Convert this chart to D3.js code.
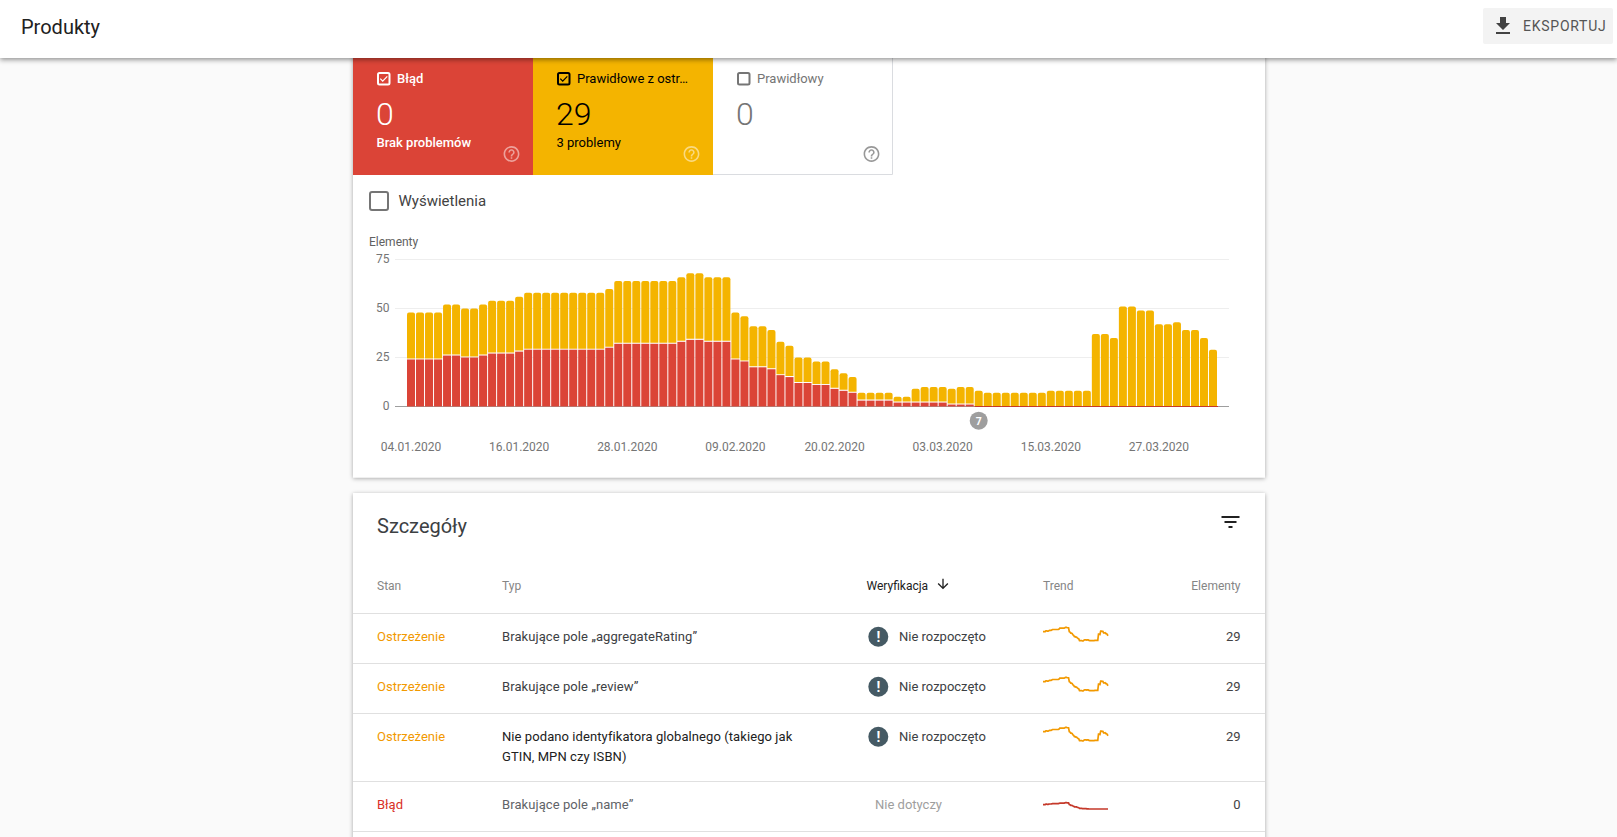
<![CDATA[<!DOCTYPE html>
<html><head><meta charset="utf-8">
<script src="https://cdn.jsdelivr.net/npm/d3@7/dist/d3.min.js"></script>
<style>
html,body{margin:0;padding:0;background:#fafafa;overflow:hidden}
svg{display:block}
text{font-family:Roboto,sans-serif}
</style></head><body><svg id="c" width="1617" height="837"></svg>
<script>
const totalCounts=[48,48,48,48,52,52,50,50,52,54,54,54,56,58,58,58,58,58,58,58,58,58,60,64,64,64,64,64,64,64,66,68,68,66,66,66,48,46,41,41,39,33,31,25,25,23,23,19,17,15,7,7,7,7,5,5,9,10,10,10,9,10,10,8,7,7,7,7,7,7,7,8,8,8,8,8,37,37,35,51,51,49,49,42,42,43,39,39,35,29];
const errorCounts=[24,24,24,24,26,26,25,25,26,27,27,27,28,29,29,29,29,29,29,29,29,29,30,32,32,32,32,32,32,32,33,34,34,33,33,33,24,23,20,20,19,16,15,12,12,11,11,9,8,7,3,3,3,3,2,2,2,2,2,2,1,1,1,0,0,0,0,0,0,0,0,0,0,0,0,0,0,0,0,0,0,0,0,0,0,0,0,0,0,0];
const startDate=new Date(2020,0,4);
const dayIndex=totalCounts.map((_,i)=>i);
const tickIndex=[0,12,24,36,47,59,71,83];
const yTicks=[0,25,50,75];
const tiles=[
 {label:"Błąd",count:"0",sub:"Brak problemów",fill:"#db4437",fg:"#fff",checked:true,bold:true},
 {label:"Prawidłowe z ostr…",count:"29",sub:"3 problemy",fill:"#f4b400",fg:"#000",checked:true,bold:false},
 {label:"Prawidłowy",count:"0",sub:"",fill:"#fff",fg:"#757575",checked:false,bold:false}];
const tableHeaders=["Stan","Typ","Weryfikacja","Trend","Elementy"];
const rowStates=["Ostrzeżenie","Ostrzeżenie","Ostrzeżenie","Błąd"];
const rowTypes=[["Brakujące pole „aggregateRating”"],["Brakujące pole „review”"],["Nie podano identyfikatora globalnego (takiego jak","GTIN, MPN czy ISBN)"],["Brakujące pole „name”"]];
const rowVerify=["Nie rozpoczęto","Nie rozpoczęto","Nie rozpoczęto","Nie dotyczy"];
const rowCounts=[29,29,29,0];
const rowTops=[613.5,663.5,713.5,781.5,831.5];

const svg=d3.select("#c");
const defs=svg.append("defs");
const f=defs.append("filter").attr("id","sh").attr("x","-5%").attr("y","-10%").attr("width","110%").attr("height","125%");
f.append("feDropShadow").attr("dx",0).attr("dy",1).attr("stdDeviation",2).attr("flood-color","#000").attr("flood-opacity",.35);
const f2=defs.append("filter").attr("id","hs").attr("x","-2%").attr("y","-20%").attr("width","104%").attr("height","160%");
f2.append("feDropShadow").attr("dx",0).attr("dy",2).attr("stdDeviation",2.5).attr("flood-color","#000").attr("flood-opacity",.4);

const T=(g,x,y,s,size,fill,w,anchor)=>g.append("text").attr("x",x).attr("y",y).text(s).attr("font-size",size).attr("fill",fill).attr("font-weight",w||400).attr("text-anchor",anchor||"start");
const ICON={help:"M11 18h2v-2h-2v2zm1-16C6.48 2 2 6.48 2 12s4.48 10 10 10 10-4.48 10-10S17.52 2 12 2zm0 18c-4.41 0-8-3.59-8-8s3.59-8 8-8 8 3.59 8 8-3.59 8-8 8zm0-14c-2.21 0-4 1.79-4 4h2c0-1.1.9-2 2-2s2 .9 2 2c0 2-3 1.75-3 5h2c0-2.25 3-2.5 3-5 0-2.21-1.79-4-4-4z",
 dl:"M19 9h-4V3H9v6H5l7 7 7-7zM5 18v2h14v-2H5z",
 filter:"M10 18h4v-2h-4v2zM3 6v2h18V6H3zm3 7h12v-2H6v2z",
 down:"M20 12l-1.41-1.41L13 16.17V4h-2v12.17l-5.58-5.59L4 12l8 8 8-8z"};
const Icon=(g,d,cx,cy,size,fill,op)=>g.append("path").attr("d",d).attr("fill",fill).attr("opacity",op==null?1:op).attr("transform",`translate(${cx-size/2},${cy-size/2}) scale(${size/24})`);

// cards
svg.append("rect").attr("x",353).attr("y",40).attr("width",912).attr("height",437.5).attr("fill","#fff").attr("filter","url(#sh)");
svg.append("rect").attr("x",353).attr("y",493).attr("width",912).attr("height",400).attr("fill","#fff").attr("filter","url(#sh)");

// tiles
const tileX=[353,533,713], tileW=[180,180,180];
tiles.forEach((t,i)=>{
 const g=svg.append("g"), x0=tileX[i], tx=x0+24;
 g.append("rect").attr("x",x0).attr("y",50).attr("width",tileW[i]).attr("height",125).attr("fill",t.fill);
 if(i==2){g.append("path").attr("d",`M${x0} 174.5H${x0+tileW[i]-.5}V50`).attr("fill","none").attr("stroke","#dadce0");}
 const boxStroke=i==0?"#fff":(i==1?"#000":"#757575");
 g.append("rect").attr("x",tx+1).attr("y",73).attr("width",11.5).attr("height",11.5).attr("rx",1.5).attr("fill","none").attr("stroke",boxStroke).attr("stroke-width",2);
 if(t.checked)g.append("path").attr("d",`M${tx+3.3} 78.7l2.4 2.5 4.6-4.8`).attr("fill","none").attr("stroke",boxStroke).attr("stroke-width",1.2);
 T(g,tx+20,83,t.label,13,i==2?"#757575":t.fg,t.bold?500:400);
 T(g,tx-1,125,t.count,32,t.fg,300);
 if(t.sub)T(g,tx-.5,147,t.sub,13,t.fg,t.bold?500:400);
 Icon(g,ICON.help,x0+158.5,154,19,i==2?"#757575":"#fff",i==2?.75:.5);
});

// impressions checkbox
svg.append("rect").attr("x",370).attr("y",192).attr("width",18).attr("height",18).attr("rx",2).attr("fill","none").attr("stroke","#757575").attr("stroke-width",2);
T(svg,398.5,206,"Wyświetlenia",15,"#424242");

// chart
const x=d3.scaleBand().domain(dayIndex).range([407,407+9*dayIndex.length]).paddingInner(.11).paddingOuter(0);
const y=d3.scaleLinear().domain([0,75]).range([406.5,259.5]);
T(svg,369,246,"Elementy",12,"#616161");
const gy=svg.append("g");
gy.selectAll("line").data(yTicks).join("line").attr("x1",395).attr("x2",1229).attr("y1",d=>Math.round(y(d))-.5).attr("y2",d=>Math.round(y(d))-.5).attr("stroke",d=>d?"#eeeeee":"#9e9e9e");
gy.selectAll("text").data(yTicks).join("text").attr("x",389.5).attr("y",d=>y(d)+3.7).attr("text-anchor","end").attr("font-size",12).attr("fill","#757575").text(d=>d);

const barPath=(x0,w,top,bot)=>{const r=Math.min(2,Math.max(0,bot-top));return `M${x0} ${bot}V${top+r}Q${x0} ${top} ${x0+r} ${top}H${x0+w-r}Q${x0+w} ${top} ${x0+w} ${top+r}V${bot}Z`;};
svg.append("g").selectAll("path").data(dayIndex).join("path").attr("fill","#f4b400")
 .attr("d",i=>barPath(x(i),x.bandwidth(),y(totalCounts[i]),errorCounts[i]?y(errorCounts[i])-1:y(0)));
svg.append("g").selectAll("rect").data(dayIndex).join("rect").attr("fill",i=>errorCounts[i]?"#db4437":"#c5392a")
 .attr("x",x).attr("width",i=>errorCounts[i]?x.bandwidth():x.step()).attr("y",i=>errorCounts[i]?y(errorCounts[i]):y(0)-.5).attr("height",i=>errorCounts[i]?y(0)-y(errorCounts[i]):1);

const fmt=d3.timeFormat("%d.%m.%Y");
svg.append("g").selectAll("text").data(tickIndex).join("text").attr("x",i=>x(i)+x.bandwidth()/2).attr("y",451).attr("text-anchor","middle").attr("font-size",12).attr("fill","#757575")
 .text(i=>fmt(d3.timeDay.offset(startDate,i)));

// annotation
const ann=svg.append("g");
ann.append("circle").attr("cx",x(63)+x.bandwidth()/2).attr("cy",420.7).attr("r",9).attr("fill","#9e9e9e");
T(ann,x(63)+x.bandwidth()/2,424.5,"7",10.5,"#fff",700,"middle");

// details
T(svg,377,532.5,"Szczegóły",20,"#3c4043");
Icon(svg,ICON.filter,1230.5,522,24,"#212121");
const hx=[377,502,866.5,1043,1240.5];
tableHeaders.forEach((h,i)=>T(svg,hx[i],589.5,h,12,i==2?"#212121":"#858585",400,i==4?"end":"start"));
Icon(svg,ICON.down,943,584,16,"#212121");

rowTops.forEach(t=>svg.append("line").attr("x1",353).attr("x2",1265).attr("y1",t).attr("y2",t).attr("stroke","#e0e0e0"));

const sparkX=d3.scaleLinear().domain([0,dayIndex.length-1]).range([1043,1108]);
const sparkYTotal=d3.scaleLinear().domain([0,68]).range([14.8,0]);
const sparkYErr=d3.scaleLinear().domain([0,34]).range([6.3,0]);
const lineT=d3.line().x(i=>sparkX(i)).y(i=>sparkYTotal(totalCounts[i]));
const lineE=d3.line().x(i=>sparkX(i)).y(i=>sparkYErr(errorCounts[i]));

const typeFill=["#3c4043","#3c4043","#212121","#5f6368"];
rowStates.forEach((s,i)=>{
 const err=s==="Błąd";
 const cy=rowTops[i]+23.2;
 const base=cy+4.7;
 T(svg,377,base,s,13,err?"#d93025":"#f29900");
 rowTypes[i].forEach((l,j)=>T(svg,502,base+j*20,l,13,typeFill[i]).attr("letter-spacing",.08));
 if(!err){
  svg.append("circle").attr("cx",878.3).attr("cy",cy).attr("r",10).attr("fill","#455a64");
  T(svg,878.3,cy+5,"!",14,"#fff",700,"middle");
  T(svg,899,base,rowVerify[i],13,"#3c4043");
  svg.append("path").attr("d",lineT(dayIndex)).attr("transform",`translate(0,${cy-9.4})`).attr("fill","none").attr("stroke","#f29900").attr("stroke-width",1.7);
 } else {
  T(svg,875,base,rowVerify[i],13,"#9e9e9e");
  svg.append("path").attr("d",lineE(dayIndex)).attr("transform",`translate(0,${cy-2})`).attr("fill","none").attr("stroke","#c5392a").attr("stroke-width",1.7);
 }
 T(svg,1240.5,base,rowCounts[i],13,"#424242",400,"end");
});

// header
svg.append("rect").attr("x",0).attr("y",0).attr("width",1617).attr("height",58).attr("fill","#fff").attr("filter","url(#hs)");
T(svg,21,33.5,"Produkty",20,"#212121");
svg.append("rect").attr("x",1483).attr("y",8).attr("width",130).attr("height",36).attr("rx",2).attr("fill","#f3f3f3");
Icon(svg,ICON.dl,1503,26,24,"#424242");
T(svg,1523,31,"EKSPORTUJ",14,"#555",400).attr("letter-spacing",.75);
</script></body></html>]]>
